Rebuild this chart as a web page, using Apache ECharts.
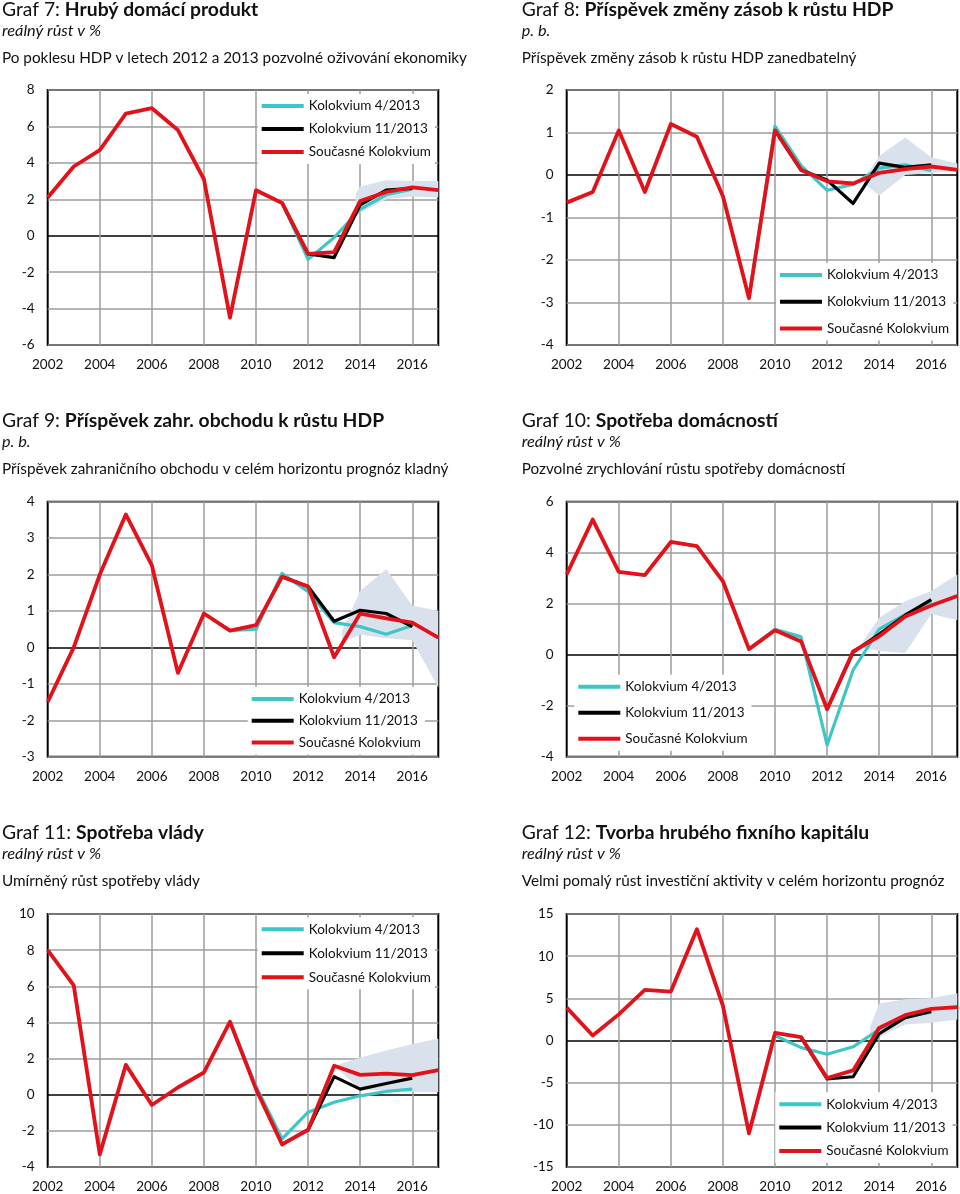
<!DOCTYPE html>
<html>
<head>
<meta charset="utf-8">
<script src="https://cdn.jsdelivr.net/npm/echarts@6/dist/echarts.min.js"></script>
<style>
html,body{margin:0;padding:0;background:#fff;}
#c{width:960px;height:1194px;}
</style>
</head>
<body>
<div id="c"></div>
<script>
// ---------- DATA ----------
const YEARS = [2002, 2003, 2004, 2005, 2006, 2007, 2008, 2009, 2010, 2011, 2012, 2013, 2014, 2015, 2016, 2017];
const SERIES_NAMES = ['Kolokvium 4/2013', 'Kolokvium 11/2013', 'Současné Kolokvium'];

const TITLE_NUM = ['Graf 7: ', 'Graf 8: ', 'Graf 9: ', 'Graf 10: ', 'Graf 11: ', 'Graf 12: '];
const TITLE_BOLD = ['Hrubý domácí produkt', 'Příspěvek změny zásob k růstu HDP', 'Příspěvek zahr. obchodu k růstu HDP',
  'Spotřeba domácností', 'Spotřeba vlády', 'Tvorba hrubého fixního kapitálu'];
const UNITS = ['reálný růst v %', 'p. b.', 'p. b.', 'reálný růst v %', 'reálný růst v %', 'reálný růst v %'];
const NOTES = ['Po poklesu HDP v letech 2012 a 2013 pozvolné oživování ekonomiky',
  'Příspěvek změny zásob k růstu HDP zanedbatelný',
  'Příspěvek zahraničního obchodu v celém horizontu prognóz kladný',
  'Pozvolné zrychlování růstu spotřeby domácností',
  'Umírněný růst spotřeby vlády',
  'Velmi pomalý růst investiční aktivity v celém horizontu prognóz'];

const Y_MIN = [-6, -4, -3, -4, -4, -15];
const Y_MAX = [8, 2, 4, 6, 10, 15];
const Y_STEP = [2, 1, 1, 2, 2, 5];

// Graf 7
const G7_TEAL  = [null, null, null, null, null, null, null, null, null, 1.8, -1.3, -0.1, 1.45, 2.25, 2.55, null];
const G7_BLACK = [null, null, null, null, null, null, null, null, null, 1.8, -1.0, -1.2, 1.7, 2.5, 2.6, null];
const G7_RED   = [2.1, 3.8, 4.7, 6.7, 7.0, 5.8, 3.1, -4.5, 2.5, 1.8, -1.0, -0.9, 1.9, 2.4, 2.65, 2.5];
const G7_FAN_X  = [2013.83, 2014, 2015, 2016, 2017];
const G7_FAN_LO = [1.4, 1.25, 2.0, 2.15, 2.1];
const G7_FAN_HI = [2.3, 2.7, 3.05, 3.0, 3.0];

// Graf 8
const G8_TEAL  = [null, null, null, null, null, null, null, -2.9, 1.15, 0.22, -0.36, -0.22, 0.16, 0.24, 0.1, null];
const G8_BLACK = [null, null, null, null, null, null, null, null, 1.05, 0.12, -0.12, -0.67, 0.28, 0.18, 0.24, null];
const G8_RED   = [-0.65, -0.4, 1.05, -0.4, 1.2, 0.9, -0.5, -2.9, 1.05, 0.12, -0.15, -0.2, 0.05, 0.14, 0.2, 0.12];
const G8_FAN_X  = [2013.35, 2014, 2015, 2016, 2017];
const G8_FAN_LO = [-0.15, -0.48, 0.0, 0.05, 0.1];
const G8_FAN_HI = [-0.15, 0.45, 0.88, 0.42, 0.27];

// Graf 9
const G9_TEAL  = [null, null, null, null, null, null, 0.93, 0.46, 0.5, 2.03, 1.53, 0.68, 0.57, 0.36, 0.6, null];
const G9_BLACK = [null, null, null, null, null, null, null, null, null, 1.94, 1.67, 0.72, 1.02, 0.93, 0.57, null];
const G9_RED   = [-1.5, 0.0, 2.0, 3.65, 2.25, -0.7, 0.93, 0.46, 0.61, 1.94, 1.67, -0.27, 0.93, 0.8, 0.68, 0.27];
const G9_FAN_X  = [2013.3, 2014, 2015, 2016, 2017];
const G9_FAN_LO = [0.15, 0.35, 0.25, 0.2, -1.1];
const G9_FAN_HI = [0.45, 1.55, 2.15, 1.15, 1.0];

// Graf 10
const G10_TEAL  = [null, null, null, null, null, null, null, 0.22, 1.0, 0.7, -3.54, -0.6, 1.0, 1.57, 2.1, null];
const G10_BLACK = [null, null, null, null, null, null, null, null, null, null, -2.14, 0.1, 0.8, 1.55, 2.16, null];
const G10_RED   = [3.15, 5.3, 3.25, 3.12, 4.42, 4.26, 2.88, 0.22, 0.96, 0.52, -2.14, 0.13, 0.72, 1.5, 1.93, 2.3];
const G10_FAN_X  = [2013.3, 2014, 2015, 2016, 2017];
const G10_FAN_LO = [0.3, 0.15, 0.07, 1.6, 1.35];
const G10_FAN_HI = [0.4, 1.45, 2.1, 2.5, 3.15];

// Graf 11
const G11_TEAL  = [null, null, null, null, null, null, null, 4.04, 0.45, -2.44, -0.97, -0.42, -0.06, 0.18, 0.31, null];
const G11_BLACK = [null, null, null, null, null, null, null, null, null, -2.75, -1.94, 1.0, 0.31, 0.62, 0.92, null];
const G11_RED   = [8.0, 6.05, -3.3, 1.65, -0.57, 0.4, 1.23, 4.04, 0.31, -2.75, -1.94, 1.6, 1.1, 1.17, 1.08, 1.36];
const G11_FAN_X  = [2013, 2014, 2015, 2016, 2017];
const G11_FAN_LO = [1.6, 0.3, 0.2, 0.15, 0.15];
const G11_FAN_HI = [1.6, 2.05, 2.45, 2.8, 3.1];

// Graf 12
const G12_TEAL  = [null, null, null, null, null, null, null, -11.0, 0.6, -0.85, -1.63, -0.75, 1.3, 2.75, 3.4, null];
const G12_BLACK = [null, null, null, null, null, null, null, null, null, 0.4, -4.55, -4.3, 0.8, 2.7, 3.45, null];
const G12_RED   = [3.9, 0.6, 3.1, 6.0, 5.8, 13.2, 4.1, -11.0, 0.9, 0.4, -4.45, -3.55, 1.5, 3.0, 3.75, 3.95];
const G12_FAN_X  = [2013.65, 2014, 2015, 2016, 2017];
const G12_FAN_LO = [0.8, 0.4, 1.9, 2.1, 2.5];
const G12_FAN_HI = [1.6, 4.4, 4.9, 5.0, 5.6];

const CHARTS = [
  {teal: G7_TEAL, black: G7_BLACK, red: G7_RED, fx: G7_FAN_X, lo: G7_FAN_LO, hi: G7_FAN_HI},
  {teal: G8_TEAL, black: G8_BLACK, red: G8_RED, fx: G8_FAN_X, lo: G8_FAN_LO, hi: G8_FAN_HI},
  {teal: G9_TEAL, black: G9_BLACK, red: G9_RED, fx: G9_FAN_X, lo: G9_FAN_LO, hi: G9_FAN_HI},
  {teal: G10_TEAL, black: G10_BLACK, red: G10_RED, fx: G10_FAN_X, lo: G10_FAN_LO, hi: G10_FAN_HI},
  {teal: G11_TEAL, black: G11_BLACK, red: G11_RED, fx: G11_FAN_X, lo: G11_FAN_LO, hi: G11_FAN_HI},
  {teal: G12_TEAL, black: G12_BLACK, red: G12_RED, fx: G12_FAN_X, lo: G12_FAN_LO, hi: G12_FAN_HI}
];

// ---------- LAYOUT / STYLE ----------
const FONT = 'Lato, "Open Sans", sans-serif';
const COL_TEAL = '#3ec6c6';
const COL_BLACK = '#000000';
const COL_RED = '#e2111a';
const COL_FAN = '#d9e1ed';
const COL_GRID = '#9c9c9c';

const GRID_LEFT = [47.7, 566.7];
const GRID_TOP = [90, 501.7, 914];
const GRID_W = 390.6, GRID_H = 255;
const TITLE_LEFT = [2, 521.7];
const ROW_OFF = [0, 411, 823];
// legend: [left, top, itemGap]
const LEGEND_POS = [
  [257.7, 94, 7], [776, 263, 10.7],
  [247.7, 687, 5.8], [574.3, 674.7, 10],
  [257.7, 917.3, 8], [775.3, 1092.3, 7.3]
];

function pairs(arr) { return YEARS.map((y, i) => [y, arr[i]]); }

const option = {
  animation: false,
  backgroundColor: '#fff',
  title: [], legend: [], grid: [], xAxis: [], yAxis: [], series: []
};

CHARTS.forEach((c, i) => {
  const col = i % 2, row = Math.floor(i / 2);
  const tl = TITLE_LEFT[col], off = ROW_OFF[row];
  option.title.push({
    text: '{n|' + TITLE_NUM[i] + '}{b|' + TITLE_BOLD[i] + '}',
    left: tl, top: off - 0.3, padding: 0,
    textStyle: {fontWeight: 'normal', rich: {
      n: {fontFamily: FONT, fontSize: 19.3, fontWeight: 'normal', color: '#111', lineHeight: 21},
      b: {fontFamily: FONT, fontSize: 19.3, fontWeight: 'bold', color: '#111', lineHeight: 21}
    }}
  });
  option.title.push({
    text: UNITS[i], left: tl, top: off + 22.5, padding: 0,
    textStyle: {fontFamily: FONT, fontSize: 16.3, fontStyle: 'italic', fontWeight: 'normal', color: '#111', lineHeight: 17}
  });
  option.title.push({
    text: NOTES[i], left: tl, top: off + 50.5, padding: 0,
    textStyle: {fontFamily: FONT, fontSize: 15.3, fontWeight: 'normal', color: '#111', lineHeight: 16}
  });

  option.grid.push({
    left: GRID_LEFT[col], top: GRID_TOP[row], width: GRID_W, height: GRID_H,
    show: true, borderColor: '#000', borderWidth: 2, backgroundColor: 'transparent', containLabel: false
  });

  option.xAxis.push({
    type: 'value', gridIndex: i, min: 2002, max: 2017, interval: 2,
    axisLine: {show: false}, axisTick: {show: false},
    axisLabel: {showMaxLabel: false, margin: 13, fontFamily: FONT, fontSize: 13.5, color: '#111',
      formatter: v => (v === 2017 ? '' : String(v))},
    splitLine: {show: true, showMinLine: false, showMaxLine: false, lineStyle: {color: COL_GRID, width: 1.5}}
  });

  const nTicks = Math.round((Y_MAX[i] - Y_MIN[i]) / Y_STEP[i]) + 1;
  const zeroIdx = Math.round((0 - Y_MIN[i]) / Y_STEP[i]);
  const lineColors = [];
  for (let k = 0; k < nTicks; k++) lineColors.push(k === zeroIdx ? '#000' : COL_GRID);
  option.yAxis.push({
    type: 'value', gridIndex: i, min: Y_MIN[i], max: Y_MAX[i], interval: Y_STEP[i],
    axisLine: {show: false}, axisTick: {show: false},
    axisLabel: {margin: 13, fontFamily: FONT, fontSize: 13.5, color: '#111'},
    splitLine: {show: true, lineStyle: {color: lineColors, width: 1.5}}
  });

  const lp = LEGEND_POS[i];
  option.legend.push({
    data: SERIES_NAMES, orient: 'vertical', left: lp[0], top: lp[1], itemGap: lp[2],
    icon: 'rect', itemWidth: 42, itemHeight: 4, padding: 4,
    backgroundColor: '#fff', selectedMode: false,
    textStyle: {fontFamily: FONT, fontSize: 13.5, color: '#111', lineHeight: 16}
  });

  // fan
  const FX = c.fx, LO = c.lo, HI = c.hi;
  option.series.push({
    type: 'custom', xAxisIndex: i, yAxisIndex: i, silent: true, clip: true, z: 1,
    data: FX.map((x, k) => [x, LO[k], HI[k]]),
    encode: {x: 0, y: [1, 2]},
    renderItem: (params, api) => {
      if (params.dataIndex !== 0) return null;
      const up = FX.map((x, k) => api.coord([x, HI[k]]));
      const dn = FX.map((x, k) => api.coord([x, LO[k]])).reverse();
      return {type: 'polygon', shape: {points: up.concat(dn)}, style: {fill: COL_FAN}};
    }
  });
  const lineBase = {type: 'line', xAxisIndex: i, yAxisIndex: i, symbol: 'none', silent: true, connectNulls: false, z: 2};
  option.series.push(Object.assign({}, lineBase, {
    name: SERIES_NAMES[0], data: pairs(c.teal), color: COL_TEAL,
    lineStyle: {color: COL_TEAL, width: 3.2, join: 'round'}
  }));
  option.series.push(Object.assign({}, lineBase, {
    name: SERIES_NAMES[1], data: pairs(c.black), color: COL_BLACK,
    lineStyle: {color: COL_BLACK, width: 3.2, join: 'round'}
  }));
  option.series.push(Object.assign({}, lineBase, {
    name: SERIES_NAMES[2], data: pairs(c.red), color: COL_RED,
    lineStyle: {color: COL_RED, width: 3.8, join: 'round'}
  }));
});

const chart = echarts.init(document.getElementById('c'), null, {renderer: 'canvas'});
chart.setOption(option);
</script>
</body>
</html>
